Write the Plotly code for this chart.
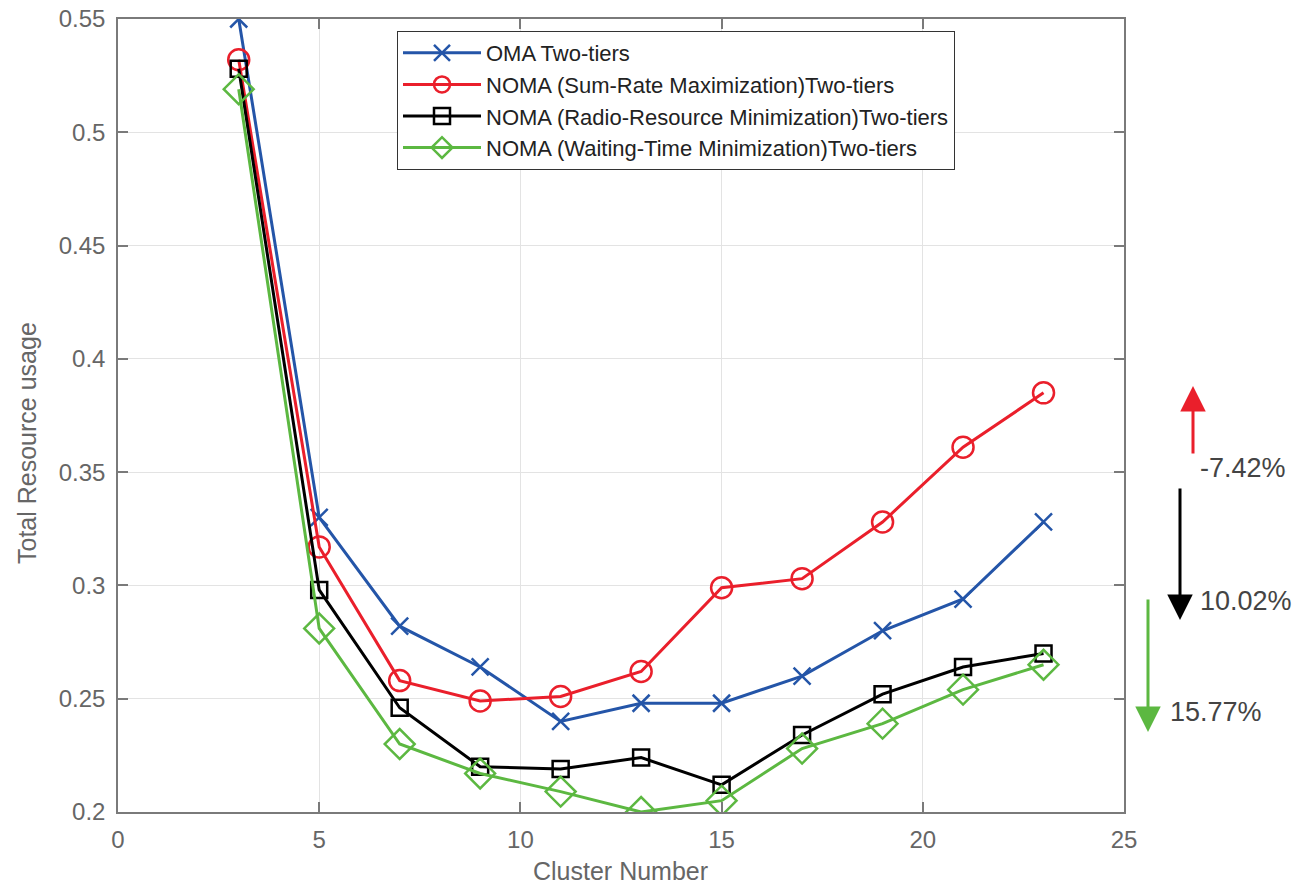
import plotly.graph_objects as go

cluster = [3, 5, 7, 9, 11, 13, 15, 17, 19, 21, 23]
oma = [0.550, 0.330, 0.282, 0.264, 0.240, 0.248, 0.248, 0.260, 0.280, 0.294, 0.328]
noma_sum_rate = [0.532, 0.317, 0.258, 0.249, 0.251, 0.262, 0.299, 0.303, 0.328, 0.361, 0.385]
noma_radio = [0.528, 0.298, 0.246, 0.220, 0.219, 0.224, 0.212, 0.234, 0.252, 0.264, 0.270]
noma_waiting = [0.519, 0.281, 0.230, 0.217, 0.209, 0.200, 0.205, 0.228, 0.239, 0.254, 0.265]

names = ["OMA Two-tiers",
         "NOMA (Sum-Rate Maximization)Two-tiers",
         "NOMA (Radio-Resource Minimization)Two-tiers",
         "NOMA (Waiting-Time Minimization)Two-tiers"]
colors = ["#2455a8", "#ea1f2b", "#000000", "#5cb841"]
symbols = ["x-thin-open", "circle-open", "square-open", "diamond-open"]
sizes = [17, 21, 16, 23]

pct_labels = ["-7.42%", "10.02%", "15.77%"]
FONT = "Liberation Sans, Arial, Helvetica"

fig = go.Figure()
for ys, nm, c, s, sz in zip([oma, noma_sum_rate, noma_radio, noma_waiting], names, colors, symbols, sizes):
    fig.add_trace(go.Scatter(
        x=cluster, y=ys, name=nm, mode="lines+markers",
        line=dict(color=c, width=3),
        marker=dict(symbol=s, size=sz, color=c, line=dict(color=c, width=2.5)),
    ))

axis_common = dict(
    showline=True, linecolor="#7a7a7a", linewidth=1.5, mirror="ticks",
    ticks="inside", ticklen=10, tickcolor="#7a7a7a", tickwidth=1.5,
    showgrid=True, gridcolor="#e3e3e3", gridwidth=1, zeroline=False,
    automargin=False,
    tickfont=dict(family=FONT, size=24, color="#666666"),
)

fig.update_xaxes(range=[0, 25], tickvals=[0, 5, 10, 15, 20, 25],
                 ticklabelstandoff=5, **axis_common)
fig.update_yaxes(range=[0.2, 0.55], tickvals=[0.2, 0.25, 0.3, 0.35, 0.4, 0.45, 0.5, 0.55],
                 ticktext=["0.2", "0.25", "0.3", "0.35", "0.4", "0.45", "0.5", "0.55"],
                 ticklabelstandoff=6, **axis_common)

L, R, T, B = 118, 174, 19, 74
W, H = 1298, 886
pw = W - L - R
ph = H - T - B

def px(xp):
    return (xp - L) / pw

def py(yp):
    return (H - B - yp) / ph

# axis titles
fig.add_annotation(xref="paper", yref="paper", x=px(620), y=py(871),
                   text="Cluster Number", showarrow=False, xanchor="center", yanchor="middle",
                   font=dict(family=FONT, size=25, color="#666666"))
fig.add_annotation(xref="paper", yref="paper", x=px(27), y=py(443),
                   text="Total Resource usage", showarrow=False, textangle=-90,
                   xanchor="center", yanchor="middle",
                   font=dict(family=FONT, size=25, color="#666666"))

arrows = [
    # (x pixel, tip y pixel, tail y pixel, color)
    (1193, 386, 455, "#ea1f2b"),
    (1180, 620, 487, "#000000"),
    (1148, 732, 598, "#5cb841"),
]
for xa, tip, tail, c in arrows:
    fig.add_annotation(xref="paper", yref="paper", x=px(xa), y=py(tip),
                       ax=0, ay=tail - tip, axref="pixel", ayref="pixel",
                       text="", showarrow=True, arrowhead=2, arrowsize=1.7,
                       arrowwidth=3, arrowcolor=c)

texts = [(1243, 468), (1246, 601), (1216, 712)]
for (xt, yt), t in zip(texts, pct_labels):
    fig.add_annotation(xref="paper", yref="paper", x=px(xt), y=py(yt),
                       text=t, showarrow=False, xanchor="center", yanchor="middle",
                       font=dict(family=FONT, size=27, color="#444444"))

fig.update_layout(
    width=W, height=H,
    margin=dict(l=L, r=R, t=T, b=B, autoexpand=False),
    paper_bgcolor="white", plot_bgcolor="white",
    showlegend=True,
    legend=dict(x=px(397), y=py(31), xanchor="left", yanchor="top",
                bgcolor="white", bordercolor="#333333", borderwidth=1,
                font=dict(family=FONT, size=22, color="#222222"),
                itemwidth=78, tracegroupgap=0),
)

fig.write_html("out.html")
